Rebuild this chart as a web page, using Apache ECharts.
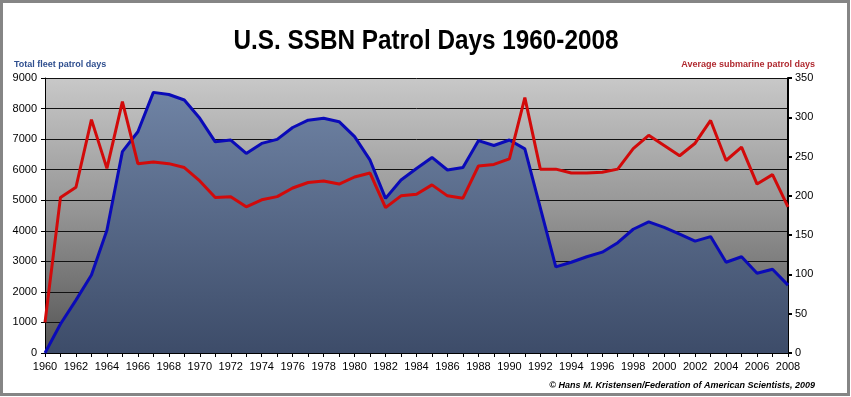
<!DOCTYPE html>
<html>
<head>
<meta charset="utf-8">
<script src="https://cdn.jsdelivr.net/npm/echarts@6/dist/echarts.min.js"></script>
<style>
  html, body { margin: 0; padding: 0; background: #fff; }
  #main { width: 851px; height: 397px; }
</style>
</head>
<body>
<div id="main"></div>
<script>
// years 1960-2008
var years = [];
for (var y = 1960; y <= 2008; y++) years.push(String(y));

// total fleet patrol days (left axis)
var fleetDays = [
  0, 950, 1730, 2550, 4020, 6590, 7240, 8530, 8460, 8280,
  7680, 6910, 6970, 6530, 6860, 6990, 7380, 7620, 7680, 7570,
  7080, 6310, 5060, 5660, 6040, 6400, 5990, 6070, 6950, 6790,
  6970, 6680, 4750, 2820, 2970, 3150, 3300, 3610, 4050, 4290,
  4110, 3890, 3660, 3810, 2970, 3150, 2610, 2740, 2220
];

// average submarine patrol days (right axis)
var avgDays = [
  39, 198, 211, 297, 235, 320, 241, 243, 241, 236,
  219, 198, 199, 186, 195, 199, 210, 217, 219, 215,
  224, 229, 185, 200, 202, 214, 200, 197, 238, 240,
  247, 325, 234, 234, 229, 229, 230, 234, 260, 277,
  264, 251, 267, 296, 245, 262, 215, 227, 186
];

var font = 'Liberation Sans, Arial, sans-serif';

var myChart = echarts.init(document.getElementById('main'));

var option = {
  animation: false,
  backgroundColor: '#ffffff',
  grid: {
    left: 45, right: 63, top: 78, bottom: 44,
    show: true,
    borderWidth: 0,
    backgroundColor: new echarts.graphic.LinearGradient(0, 0, 0, 1, [
      { offset: 0, color: '#c8c8c8' },
      { offset: 0.5, color: '#939393' },
      { offset: 1, color: '#545454' }
    ])
  },
  xAxis: {
    type: 'category',
    data: years,
    boundaryGap: false,
    axisLine: { lineStyle: { color: '#000', width: 1 } },
    axisTick: { interval: 0, length: 4, lineStyle: { color: '#000' } },
    axisLabel: {
      interval: 1, color: '#000', fontFamily: font, fontSize: 11, margin: 8
    },
    splitLine: { show: false }
  },
  yAxis: [
    {
      type: 'value',
      min: 0, max: 9000, interval: 1000,
      name: 'Total fleet patrol days',
      nameLocation: 'end',
      nameGap: 9,
      nameTextStyle: {
        color: '#2f4f8f', fontFamily: font, fontSize: 9, fontWeight: 'bold',
        align: 'left', padding: [0, 0, 0, -31]
      },
      axisLine: { show: true, lineStyle: { color: '#000' } },
      axisTick: { show: true, length: 4, lineStyle: { color: '#000' } },
      axisLabel: {
        color: '#000', fontFamily: font, fontSize: 11, margin: 8,
        formatter: function (v) { return String(v); }
      },
      splitLine: { show: true, lineStyle: { color: '#111', width: 1 } }
    },
    {
      type: 'value',
      min: 0, max: 350, interval: 50,
      name: 'Average submarine patrol days',
      nameLocation: 'end',
      nameGap: 9,
      nameTextStyle: {
        color: '#b02a30', fontFamily: font, fontSize: 9, fontWeight: 'bold',
        align: 'right', padding: [0, -27, 0, 0]
      },
      axisLine: { show: true, lineStyle: { color: '#000', width: 2 } },
      axisTick: { show: true, length: 4, lineStyle: { color: '#000', width: 2 } },
      axisLabel: { color: '#000', fontFamily: font, fontSize: 11, margin: 7 },
      splitLine: { show: false }
    }
  ],
  series: [
    {
      name: 'Total fleet patrol days',
      type: 'line',
      yAxisIndex: 0,
      data: fleetDays,
      showSymbol: false,
      lineStyle: { color: '#0a0ab8', width: 3 },
      itemStyle: { color: '#0a0ab8' },
      areaStyle: {
        opacity: 1,
        color: new echarts.graphic.LinearGradient(0, 0, 0, 1, [
          { offset: 0, color: '#6f83a4' },
          { offset: 1, color: '#3d4c69' }
        ])
      },
      z: 2
    },
    {
      name: 'Average submarine patrol days',
      type: 'line',
      yAxisIndex: 1,
      data: avgDays,
      showSymbol: false,
      lineStyle: { color: '#d20a0a', width: 3 },
      itemStyle: { color: '#d20a0a' },
      z: 3
    }
  ],
  graphic: [
    {
      type: 'rect',
      shape: { x: 1.5, y: 1.5, width: 847, height: 393 },
      style: { fill: 'none', stroke: '#858585', lineWidth: 3 },
      silent: true
    },
    {
      // condensed bold title (no narrow font installed, so squeeze it)
      type: 'text',
      x: 426,
      y: 42,
      scaleX: 0.9,
      style: {
        text: 'U.S. SSBN Patrol Days 1960-2008',
        fontFamily: font,
        fontSize: 27,
        fontWeight: 'bold',
        fill: '#000',
        align: 'center',
        verticalAlign: 'middle'
      }
    },
    {
      type: 'text',
      right: 36,
      top: 381,
      style: {
        text: '\u00a9 Hans M. Kristensen/Federation of American Scientists, 2009',
        fontFamily: font,
        fontSize: 9,
        fontWeight: 'bold',
        fontStyle: 'italic',
        fill: '#000'
      }
    }
  ]
};

myChart.setOption(option);
</script>
</body>
</html>
